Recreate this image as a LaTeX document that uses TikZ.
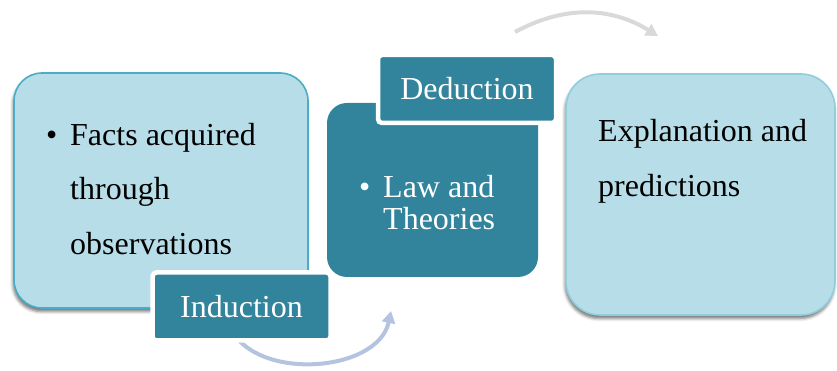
\documentclass[tikz,border=0pt]{standalone}
\usepackage{fontspec}
\setmainfont{Liberation Serif}
\usetikzlibrary{arrows.meta,shadows.blur}
\definecolor{paleblue}{HTML}{B7DDE8}
\definecolor{tealdark}{HTML}{31849B}
\definecolor{edgeblue}{HTML}{4BACC6}
\definecolor{edgepale}{HTML}{92CDDC}
\definecolor{arrowgrey}{HTML}{D9D9D9}
\definecolor{arrowlav}{HTML}{B4C3E0}
\tikzset{
  x=1pt, y=1pt,
  panel/.style={draw, line width=1.6pt, fill=paleblue, inner sep=0pt,
    blur shadow={shadow xshift=-1pt, shadow yshift=-3.5pt,
      shadow blur radius=3pt, shadow opacity=55}},
  darkpanel/.style={fill=tealdark, inner sep=0pt, rounded corners=20pt},
  tagbox/.style={fill=tealdark, draw=white, line width=4.5pt, inner sep=0pt,
    rounded corners=4pt, text=white, font=\fontsize{32}{38}\selectfont},
  txt/.style={anchor=base west, inner sep=0pt, font=\fontsize{32}{38}\selectfont},
  wtxt/.style={txt, text=white},
  flow/.style={line width=4pt, -{Triangle[length=12pt,width=13pt]}},
}
\begin{document}
\begin{tikzpicture}
\useasboundingbox (0,0) rectangle (837,371);

% curved flow arrows
\coordinate (topstart) at (515,339);
\coordinate (topend) at (658,335);
\coordinate (botstart) at (228,48);
\coordinate (botend) at (391,60);
\draw[flow, arrowgrey] (topstart) to[bend left=30] (topend);
\draw[flow, arrowlav] (botstart) to[bend right=74] (botend);

% observation panel
\node[panel, draw=edgeblue, rounded corners=28pt, minimum width=294pt,
  minimum height=235pt] (facts) at (161,180.5) {};
\node[txt] (b1) at (46,225) {•};
\node[txt] (f1) at (70,225) {Facts acquired};
\node[txt] (f2) at (70,171) {through};
\node[txt] (f3) at (70,116) {observations};

% laws panel
\node[darkpanel, minimum width=211pt, minimum height=174pt] (laws) at (432.5,181) {};
\node[wtxt] (b2) at (359,173) {•};
\node[wtxt] (l1) at (383,173) {Law and};
\node[wtxt] (l2) at (383,141) {Theories};

% explanation panel
\node[panel, draw=edgepale, rounded corners=34pt, minimum width=269pt,
  minimum height=241pt] (explain) at (700.5,176.5) {};
\node[txt] (e1) at (598,229) {Explanation and};
\node[txt] (e2) at (598,174) {predictions};

% step tags
\node[tagbox, minimum width=178pt, minimum height=68pt] (deduction) at (467,282) {Deduction};
\node[tagbox, minimum width=178pt, minimum height=68pt] (induction) at (241.5,64.5) {Induction};
\end{tikzpicture}
\end{document}
